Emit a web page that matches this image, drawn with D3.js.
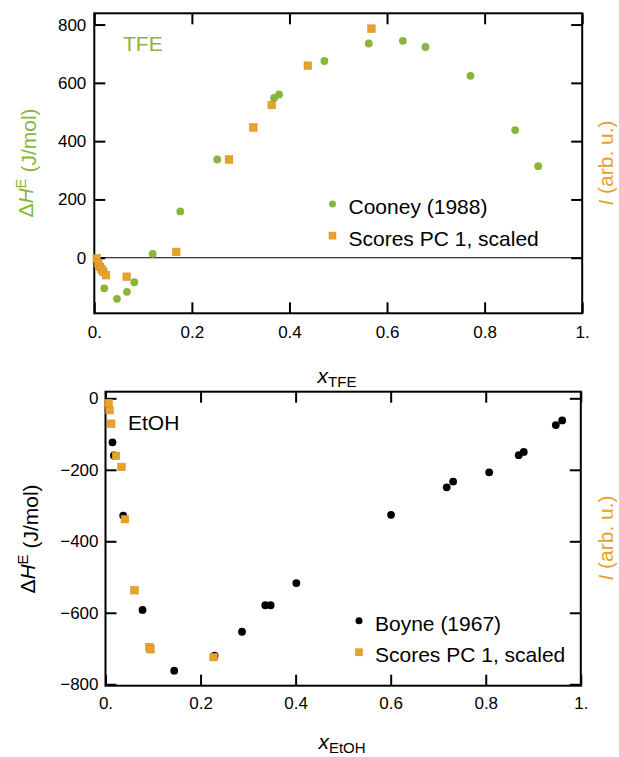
<!DOCTYPE html>
<html>
<head>
<meta charset="utf-8">
<script src="https://cdn.jsdelivr.net/npm/d3@7"></script>
<style>
  html, body { margin: 0; padding: 0; background: #fff; }
  svg { display: block; }
  text { font-family: "Liberation Sans", Arial, Helvetica, sans-serif; }
</style>
</head>
<body>
<svg id="chart" width="619" height="757"></svg>
<script>
// Excess enthalpy of mixing vs. mole fraction, with scaled PC 1 scores

// --- TFE / water (Cooney 1988) ---
const tfeCooneyX = [0.0205, 0.0465, 0.067, 0.082, 0.1197, 0.1763, 0.252, 0.3685, 0.3787, 0.4716, 0.5626, 0.6324, 0.6787, 0.771, 0.8626, 0.9098];
const tfeCooneyY = [-105, -141, -117, -84, 13, 159, 337, 548, 560, 675, 735, 744, 723, 624, 438, 314];
const tfeScoresX = [0.005, 0.008, 0.0117, 0.015, 0.0185, 0.024, 0.0664, 0.168, 0.276, 0.326, 0.3637, 0.4376, 0.568];
const tfeScoresY = [-2, -19, -31, -40, -48, -60, -65, 20, 337, 447, 524, 659, 786];

// --- EtOH / water (Boyne 1967) ---
const etohBoyneX = [0.0147, 0.0177, 0.0373, 0.0779, 0.1446, 0.2295, 0.2872, 0.3362, 0.3474, 0.4015, 0.6008, 0.7179, 0.7314, 0.8072, 0.8695, 0.88, 0.9474, 0.9608];
const etohBoyneY = [-123, -160, -328, -592, -762, -720, -653, -579, -579, -517, -326, -249, -233, -207, -159, -150, -75, -62];
const etohScoresX = [0.0063, 0.0084, 0.012, 0.0219, 0.0337, 0.0408, 0.061, 0.0926, 0.0947, 0.2274];
const etohScoresY = [-13, -33, -71, -161, -192, -338, -537, -696, -702, -724];

// Axis ticks and labels
const xTickValues = [0, 0.2, 0.4, 0.6, 0.8, 1];
const xTickLabels = ["0.", "0.2", "0.4", "0.6", "0.8", "1."];
const tfeYTicks = [0, 200, 400, 600, 800];
const etohYTicks = [-800, -600, -400, -200, 0];
const tfeLegend = ["Cooney (1988)", "Scores PC 1, scaled"];
const etohLegend = ["Boyne (1967)", "Scores PC 1, scaled"];

const GREEN = "#8ab43c";
const ORANGE = "#e8a12c";
const ORANGE_EDGE = "#cf8a22";
const TICK_FONT = 17;
const LABEL_FONT = 21;

const svg = d3.select("#chart");

function zip(xs, ys) { return xs.map((x, i) => ({ x, y: ys[i] })); }

function drawPanel(cfg) {
  const g = svg.append("g");
  const x = d3.scaleLinear().domain([0, 1]).range(cfg.xRange);
  const y = d3.scaleLinear().domain(cfg.yDomain).range(cfg.yRange);
  const [x0, x1] = [cfg.xRange[0], cfg.xRange[1]];
  const [yb, yt] = [cfg.yRange[0], cfg.yRange[1]];
  const fmtX = v => xTickLabels[xTickValues.indexOf(v)];

  // zero line
  if (cfg.zeroLine) {
    g.append("line")
      .attr("x1", x0).attr("x2", x1)
      .attr("y1", y(0)).attr("y2", y(0))
      .attr("stroke", "#000").attr("stroke-width", 1);
  }

  // axes: inward ticks on all four sides, labels on left and bottom
  const styleAxis = sel => {
    sel.select(".domain").remove();
    sel.selectAll(".tick line").attr("stroke", "#000").attr("stroke-width", 2);
    sel.selectAll(".tick text").attr("fill", "#000").style("font-size", TICK_FONT + "px")
      .style("font-family", '"Liberation Sans", Arial, sans-serif');
  };

  g.append("g").attr("transform", `translate(0,${yb})`)
    .call(d3.axisBottom(x).tickValues(xTickValues).tickFormat(fmtX).tickSize(-11).tickPadding(cfg.xPad))
    .call(styleAxis);
  g.append("g").attr("transform", `translate(0,${yt})`)
    .call(d3.axisTop(x).tickValues(xTickValues).tickFormat("").tickSize(-11))
    .call(styleAxis);
  g.append("g").attr("transform", `translate(${x0},0)`)
    .call(d3.axisLeft(y).tickValues(cfg.yTicks).tickFormat(d3.format("d")).tickSize(-11).tickPadding(cfg.yPad))
    .call(styleAxis);
  g.append("g").attr("transform", `translate(${x1},0)`)
    .call(d3.axisRight(y).tickValues(cfg.yTicks).tickFormat("").tickSize(-11))
    .call(styleAxis);

  // frame
  g.append("rect")
    .attr("x", x0).attr("y", yt)
    .attr("width", x1 - x0).attr("height", yb - yt)
    .attr("fill", "none").attr("stroke", "#000").attr("stroke-width", 2);

  // reference data (circles)
  g.append("g").selectAll("circle")
    .data(zip(cfg.refX, cfg.refY)).join("circle")
    .attr("cx", d => x(d.x)).attr("cy", d => y(d.y))
    .attr("r", 3.9).attr("fill", cfg.refColor);

  // scaled scores (squares)
  const s = 7.6;
  g.append("g").selectAll("rect")
    .data(zip(cfg.scX, cfg.scY)).join("rect")
    .attr("x", d => x(d.x) - s / 2).attr("y", d => y(d.y) - s / 2)
    .attr("width", s).attr("height", s)
    .attr("fill", ORANGE).attr("stroke", ORANGE_EDGE).attr("stroke-width", 0.5);

  // sample name
  g.append("text")
    .attr("x", cfg.name.x).attr("y", cfg.name.y)
    .attr("fill", cfg.name.color).style("font-size", LABEL_FONT + "px")
    .text(cfg.name.text);

  // legend
  const lg = g.append("g").attr("transform", `translate(${cfg.legend.x},${cfg.legend.y})`);
  lg.append("circle").attr("cx", 0).attr("cy", 0).attr("r", 3.5).attr("fill", cfg.refColor);
  lg.append("text").attr("x", 16).attr("y", 10).style("font-size", LABEL_FONT + "px")
    .attr("fill", "#000").text(cfg.legend.labels[0]);
  lg.append("rect").attr("x", -3.5).attr("y", 31.6 - 3.5).attr("width", 7).attr("height", 7)
    .attr("fill", ORANGE).attr("stroke", ORANGE_EDGE).attr("stroke-width", 0.5);
  lg.append("text").attr("x", 16).attr("y", 41.6).style("font-size", LABEL_FONT + "px")
    .attr("fill", "#000").text(cfg.legend.labels[1]);

  // left axis title: ΔH^E (J/mol); x is the rotated baseline position
  const yl = g.append("text")
    .attr("transform", `translate(${cfg.yTitle.x},${cfg.yTitle.y}) rotate(-90)`)
    .attr("text-anchor", "middle")
    .attr("fill", cfg.yTitle.color).style("font-size", LABEL_FONT + "px");
  yl.append("tspan").text("Δ");
  yl.append("tspan").style("font-style", "italic").text("H");
  yl.append("tspan").attr("dy", "-0.45em").style("font-size", "15px").text("E");
  yl.append("tspan").attr("dy", "0.45em").text(" (J/mol)");

  // right axis title: I (arb. u.)
  const yr = g.append("text")
    .attr("transform", `translate(${cfg.iTitle.x},${cfg.iTitle.y}) rotate(-90)`)
    .attr("text-anchor", "middle")
    .attr("fill", ORANGE).style("font-size", LABEL_FONT + "px");
  yr.append("tspan").style("font-style", "italic").text("I");
  yr.append("tspan").text(" (arb. u.)");

  // bottom axis title: x_sub
  const xt = g.append("text")
    .attr("x", cfg.xTitle.x).attr("y", cfg.xTitle.y)
    .attr("text-anchor", "middle").attr("fill", "#000").style("font-size", "21px");
  xt.append("tspan").style("font-style", "italic").text("x");
  xt.append("tspan").attr("dy", "0.25em").style("font-size", "15px").text(cfg.xTitle.sub);
}

drawPanel({
  xRange: [94.3, 582.2],
  yDomain: [-190.6, 838.6],
  yRange: [313.3, 13.3],
  yTicks: tfeYTicks,
  xPad: 13,
  yPad: 8,
  zeroLine: true,
  refX: tfeCooneyX, refY: tfeCooneyY, refColor: GREEN,
  scX: tfeScoresX, scY: tfeScoresY,
  name: { text: "TFE", x: 123, y: 50.5, color: GREEN },
  legend: { x: 332.5, y: 204, labels: tfeLegend },
  yTitle: { x: 33, y: 163, color: GREEN },
  iTitle: { x: 613, y: 163 },
  xTitle: { x: 337, y: 383, sub: "TFE" }
});

drawPanel({
  xRange: [105.5, 580.8],
  yDomain: [-804, 18.5],
  yRange: [685.7, 391.7],
  yTicks: etohYTicks,
  xPad: 11,
  yPad: 7,
  zeroLine: false,
  refX: etohBoyneX, refY: etohBoyneY, refColor: "#000",
  scX: etohScoresX, scY: etohScoresY,
  name: { text: "EtOH", x: 128, y: 429.5, color: "#000" },
  legend: { x: 359, y: 620.7, labels: etohLegend },
  yTitle: { x: 35, y: 539, color: "#000" },
  iTitle: { x: 613, y: 538 },
  xTitle: { x: 342, y: 749, sub: "EtOH" }
});
</script>
</body>
</html>
